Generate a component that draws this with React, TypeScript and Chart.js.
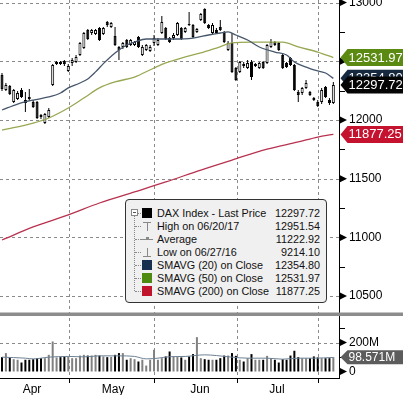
import React, { useEffect, useRef } from 'react';
import { Chart, registerables } from 'chart.js';
Chart.register(...registerables);

// ---------- DATA ----------
const opens = [
  12383, 12256, 12290, 12153, 12179, 12256, 12170, 12196, 12153, 12153,
  12042, 11974, 12025, 12298, 12477, 12494, 12503, 12417, 12486, 12494,
  12554, 12613, 12767, 12741, 12733, 12784, 12733, 12835, 12792, 12715,
  12622, 12622, 12681, 12639, 12639, 12707, 12554, 12596, 12588, 12656,
  12639, 12741, 12784, 12698, 12698, 12724, 12784, 12750, 12818, 12809,
  12750, 12852, 12945, 12809, 12741, 12767, 12792, 12750, 12596, 12656,
  12443, 12409, 12477, 12443, 12494, 12460, 12443, 12494, 12486, 12622,
  12664, 12656, 12554, 12486, 12528, 12468, 12238, 12230, 12273, 12238,
  12187, 12153, 12153, 12281, 12170, 12145,
];
const highs = [
  12400, 12315, 12298, 12264, 12247, 12273, 12238, 12264, 12170, 12162,
  12051, 12059, 12102, 12477, 12503, 12503, 12511, 12477, 12528, 12554,
  12664, 12750, 12775, 12775, 12775, 12792, 12792, 12843, 12835, 12792,
  12630, 12664, 12690, 12690, 12673, 12715, 12639, 12647, 12639, 12724,
  12698, 12886, 12792, 12707, 12741, 12835, 12792, 12792, 12920, 12818,
  12784, 12911, 12951.54, 12818, 12826, 12784, 12852, 12758, 12673, 12741,
  12451, 12503, 12494, 12511, 12511, 12486, 12494, 12503, 12647, 12690,
  12673, 12664, 12562, 12494, 12537, 12477, 12256, 12281, 12341, 12247,
  12196, 12170, 12273, 12290, 12187, 12324,
];
const lows = [
  12247, 12247, 12213, 12145, 12170, 12187, 12068, 12162, 12102, 12008,
  12008, 11966, 12017, 12290, 12468, 12468, 12460, 12409, 12460, 12486,
  12545, 12605, 12681, 12724, 12724, 12673, 12724, 12792, 12784, 12630,
  12511, 12605, 12613, 12630, 12630, 12613, 12545, 12588, 12579, 12630,
  12630, 12733, 12681, 12656, 12681, 12715, 12681, 12741, 12801, 12698,
  12741, 12843, 12818, 12775, 12733, 12733, 12758, 12656, 12588, 12400,
  12332, 12400, 12443, 12434, 12341, 12451, 12434, 12434, 12477, 12613,
  12630, 12588, 12434, 12443, 12460, 12247, 12153, 12213, 12264, 12204,
  12162, 12111, 12136, 12187, 12128, 12136,
];
const closes = [
  12264, 12298, 12221, 12256, 12230, 12196, 12145, 12179, 12111, 12017,
  12025, 12051, 12085, 12468, 12494, 12477, 12477, 12460, 12511, 12537,
  12656, 12741, 12690, 12767, 12767, 12681, 12784, 12809, 12826, 12639,
  12596, 12656, 12622, 12681, 12664, 12622, 12622, 12639, 12622, 12698,
  12681, 12835, 12690, 12664, 12724, 12826, 12690, 12784, 12809, 12707,
  12775, 12903, 12826, 12784, 12809, 12741, 12767, 12664, 12656, 12409,
  12341, 12494, 12460, 12486, 12366, 12477, 12486, 12443, 12639, 12664,
  12639, 12596, 12443, 12451, 12468, 12256, 12213, 12273, 12315, 12213,
  12170, 12119, 12256, 12196, 12145, 12297.72,
];
// volume in millions
const volumes = [
  99, 127, 97, 85, 81, 62, 81, 81, 85, 92,
  92, 92, 115, 207, 97, 99, 104, 104, 92, 92,
  110, 115, 110, 110, 115, 110, 104, 99, 101, 115,
  127, 127, 81, 92, 85, 69, 81, 41, 81, 150,
  81, 92, 104, 138, 104, 104, 97, 81, 104, 120,
  237, 92, 85, 81, 81, 81, 92, 110, 110, 127,
  108, 81, 69, 92, 120, 81, 81, 81, 108, 92,
  81, 62, 85, 81, 110, 143, 99, 92, 92, 92,
  104, 97, 92, 92, 92, 98.571,
];
const volAvgIdx = [0, 6, 8, 12, 17, 21, 25, 30, 34, 37, 40, 43, 47, 52, 55, 59, 63, 68, 72, 76, 80, 85];
const volAvgVal = [99, 92, 87, 99, 104, 101, 108, 108, 104, 87, 92, 102, 104, 115, 110, 99, 92, 92, 85, 92, 92, 97];

const sma20Idx = [0, 4, 8, 12, 15, 17, 20, 22, 24, 26, 29, 32, 34, 37, 39, 44, 49, 53, 56, 58, 60, 63, 66, 70, 73, 75, 78, 80, 83, 85];
const sma20Val = [12085, 12136, 12170, 12196, 12230, 12273, 12315, 12350, 12410, 12480, 12571, 12639, 12664, 12690, 12690, 12690, 12698, 12724, 12741, 12750, 12724, 12681, 12622, 12579, 12554, 12494, 12451, 12426, 12400, 12354.8];
const sma50Idx = [0, 8, 12, 17, 21, 25, 29, 34, 39, 42, 46, 51, 55, 59, 64, 72, 76, 81, 85];
const sma50Val = [11914, 11974, 12017, 12102, 12187, 12273, 12324, 12366, 12443, 12486, 12528, 12571, 12613, 12656, 12664, 12664, 12622, 12579, 12531.97];
const sma200Idx = [0, 8, 17, 25, 34, 42, 51, 59, 68, 76, 81, 85];
const sma200Val = [10978, 11089, 11191, 11293, 11387, 11472, 11574, 11659, 11752, 11813, 11855, 11877.25];

const monthLabels = ['Apr', 'May', 'Jun', 'Jul'];
const monthLabelPos = [7.7, 28.5, 50.8, 70.55];
const monthBoundaries = [17.19, 38.99, 60.29, 81.07];

const priceMajor = [10500, 11000, 11500, 12000, 12500, 13000];
const priceMinor = [10750, 11250, 11750, 12250, 12750];
const volMajor = [0, 200];
const volMinor = [100, 300];

const legendLabels = ['DAX Index - Last Price', 'High on 06/20/17', 'Average', 'Low on 06/27/16', 'SMAVG (20) on Close', 'SMAVG (50) on Close', 'SMAVG (200) on Close'];
const legendValues = ['12297.72', '12951.54', '11222.92', '9214.10', '12354.80', '12531.97', '11877.25'];

// ---------- STYLE ----------
const FONT = '"Liberation Sans", Arial, sans-serif';
const GRID = '#8a8a8a';
const C_SMA20 = '#46566b';
const C_SMA50 = '#97a852';
const C_SMA200 = '#b8324f';

function badge(ctx: CanvasRenderingContext2D, x0: number, y: number, h: number, color: string, text: string, font: string) {
  ctx.save();
  ctx.fillStyle = color;
  ctx.beginPath();
  ctx.moveTo(x0, y);
  ctx.lineTo(x0 + 7, y - h / 2);
  ctx.lineTo(x0 + 80, y - h / 2);
  ctx.lineTo(x0 + 80, y + h / 2);
  ctx.lineTo(x0 + 7, y + h / 2);
  ctx.closePath();
  ctx.fill();
  ctx.fillStyle = '#fff';
  ctx.font = font;
  ctx.textBaseline = 'middle';
  ctx.textAlign = 'left';
  ctx.fillText(text, x0 + 8, y + 0.5);
  ctx.restore();
}

function seg(ctx: CanvasRenderingContext2D, x1: number, y1: number, x2: number, y2: number) {
  ctx.beginPath();
  ctx.moveTo(x1, y1);
  ctx.lineTo(x2, y2);
  ctx.stroke();
}

function drawGrid(chart: any) {
  const ctx: CanvasRenderingContext2D = chart.ctx;
  const xs = chart.scales.x;
  const ys = chart.scales.y;
  const yv = chart.scales.yv;
  const L = xs.left;
  const R = xs.right;
  const T = ys.top;
  const B = xs.top;
  ctx.save();
  ctx.strokeStyle = GRID;
  ctx.lineWidth = 1;
  ctx.setLineDash([3, 3]);
  monthBoundaries.forEach((v) => {
    const x = Math.round(xs.getPixelForValue(v)) + 0.5;
    seg(ctx, x, T, x, B);
  });
  priceMajor.forEach((v) => {
    const y = Math.round(ys.getPixelForValue(v)) + 0.5;
    seg(ctx, L, y, R, y);
  });
  const y2 = Math.round(yv.getPixelForValue(200)) + 0.5;
  seg(ctx, L, y2, R, y2);
  ctx.restore();
}

const gridPlugin = {
  id: 'dashGrid',
  beforeDatasetsDraw(chart: any) {
    drawGrid(chart);
  },
};

const overlayPlugin = {
  id: 'overlay',
  afterDraw(chart: any) {
    const ctx: CanvasRenderingContext2D = chart.ctx;
    const xs = chart.scales.x;
    const ys = chart.scales.y;
    const yv = chart.scales.yv;
    const right = xs.right;
    const bottom = xs.top;
    ctx.save();
    ctx.strokeStyle = '#000';
    ctx.lineWidth = 1;
    ctx.setLineDash([]);
    monthBoundaries.forEach((v) => {
      const x = Math.round(xs.getPixelForValue(v)) + 0.5;
      seg(ctx, x, bottom, x, bottom + 5);
    });
    [...priceMinor.map((v) => ys.getPixelForValue(v)), ...volMinor.map((v) => yv.getPixelForValue(v))].forEach((p) => {
      const y = Math.round(p) + 0.5;
      seg(ctx, right, y, right + 6, y);
    });
    ctx.fillStyle = '#8c8c8c';
    ctx.fillRect(0, ys.bottom - 1.5, chart.width, 3.5);
    ctx.fillStyle = '#000';
    const tri = (y: number) => {
      ctx.beginPath();
      ctx.moveTo(right + 1, y - 3.5);
      ctx.lineTo(right + 1, y + 3.5);
      ctx.lineTo(right + 8, y);
      ctx.closePath();
      ctx.fill();
    };
    priceMajor.forEach((v) => tri(ys.getPixelForValue(v)));
    volMajor.forEach((v) => tri(yv.getPixelForValue(v)));
    ctx.restore();
    const n = closes.length - 1;
    const pf = '13px ' + FONT;
    const items = [
      { v: sma50Val[sma50Val.length - 1], c: '#5b8a12' },
      { v: sma20Val[sma20Val.length - 1], c: '#17293f' },
      { v: closes[n], c: '#050505' },
      { v: sma200Val[sma200Val.length - 1], c: '#c4122f' },
    ];
    items.forEach((it) => badge(ctx, right + 1.5, ys.getPixelForValue(it.v), 17, it.c, it.v.toFixed(2), pf));
    const lv = volumes[volumes.length - 1];
    badge(ctx, right + 1.5, yv.getPixelForValue(lv), 14, '#5c5c5c', lv.toFixed(3) + 'M', '12px ' + FONT);
  },
};

function LegendBox() {
  const rowTop = (k: number) => 6.5 + 13 * k;
  const squares: Record<number, string> = { 0: '#000', 4: '#17304f', 5: '#4f8a10', 6: '#c0142c' };
  return (
    <div style={{ position: 'absolute', left: 125, top: 199, width: 202, height: 104, boxSizing: 'border-box', background: '#f0f0f0', border: '1px solid #333', borderRadius: 4, fontFamily: FONT, fontSize: 10.8, color: '#111' }}>
      <div style={{ position: 'absolute', left: 5, top: 9, width: 7, height: 7, boxSizing: 'border-box', border: '1px solid #888', background: '#fff' }}>
        <div style={{ position: 'absolute', left: 1, top: 2, width: 3, height: 1, background: '#555' }} />
      </div>
      <div style={{ position: 'absolute', left: 8, top: 16, height: 75, borderLeft: '1px dotted #888' }} />
      {legendLabels.map((_, k) => (
        <div key={'s' + k} style={{ position: 'absolute', left: k === 0 ? 12 : 9, top: rowTop(k) + 6, width: k === 0 ? 3 : 6, borderTop: '1px dotted #888' }} />
      ))}
      {legendLabels.map((lab, k) => (
        <React.Fragment key={k}>
          {squares[k] !== undefined && (
            <div style={{ position: 'absolute', left: 16, top: rowTop(k) + 1.5, width: 10, height: 10, background: squares[k] }} />
          )}
          {k === 1 && (
            <>
              <div style={{ position: 'absolute', left: 17, top: rowTop(k) + 2, width: 8, height: 1, background: '#888' }} />
              <div style={{ position: 'absolute', left: 21, top: rowTop(k) + 2, width: 1, height: 9, background: '#888' }} />
            </>
          )}
          {k === 2 && (
            <>
              <div style={{ position: 'absolute', left: 15, top: rowTop(k) + 6, width: 12, height: 1, background: '#888' }} />
              <div style={{ position: 'absolute', left: 20, top: rowTop(k) + 4, width: 3, height: 3, background: '#888' }} />
            </>
          )}
          {k === 3 && (
            <>
              <div style={{ position: 'absolute', left: 21, top: rowTop(k) + 2, width: 1, height: 9, background: '#888' }} />
              <div style={{ position: 'absolute', left: 17, top: rowTop(k) + 10, width: 8, height: 1, background: '#888' }} />
            </>
          )}
          <div style={{ position: 'absolute', left: 31, top: rowTop(k), height: 13, lineHeight: '13px', whiteSpace: 'nowrap' }}>{lab}</div>
          <div style={{ position: 'absolute', right: 6, top: rowTop(k), height: 13, lineHeight: '13px', whiteSpace: 'nowrap', textAlign: 'right' }}>{legendValues[k]}</div>
        </React.Fragment>
      ))}
    </div>
  );
}

export default function App() {
  const ref = useRef<HTMLCanvasElement>(null);
  useEffect(() => {
    const up = closes.map((c, i) => c >= opens[i]);
    const chart = new Chart(ref.current as HTMLCanvasElement, {
      type: 'bar',
      data: {
        datasets: [
          {
            type: 'line', label: 'SMA20', yAxisID: 'y', xAxisID: 'x', order: 0,
            data: sma20Idx.map((x, k) => ({ x, y: sma20Val[k] })),
            borderColor: C_SMA20, borderWidth: 1.3, pointRadius: 0, cubicInterpolationMode: 'monotone',
          } as any,
          {
            type: 'line', label: 'SMA50', yAxisID: 'y', xAxisID: 'x', order: 0,
            data: sma50Idx.map((x, k) => ({ x, y: sma50Val[k] })),
            borderColor: C_SMA50, borderWidth: 1.3, pointRadius: 0, cubicInterpolationMode: 'monotone',
          } as any,
          {
            type: 'line', label: 'SMA200', yAxisID: 'y', xAxisID: 'x', order: 0,
            data: sma200Idx.map((x, k) => ({ x, y: sma200Val[k] })),
            borderColor: C_SMA200, borderWidth: 1.3, pointRadius: 0, cubicInterpolationMode: 'monotone',
          } as any,
          {
            type: 'bar', label: 'bodies', yAxisID: 'y', xAxisID: 'x', order: 1,
            data: opens.map((o, i) => ({ x: i, y: [o, closes[i]] })),
            backgroundColor: up.map((u) => (u ? '#fff' : '#000')),
            borderColor: '#000', borderWidth: 1, borderSkipped: false, barThickness: 3, minBarLength: 1,
            grouped: false, inflateAmount: 0,
          } as any,
          {
            type: 'bar', label: 'wicks', yAxisID: 'y', xAxisID: 'x', order: 2,
            data: lows.map((l, i) => ({ x: i, y: [l, highs[i]] })),
            backgroundColor: '#000', borderWidth: 0, barThickness: 1, grouped: false, inflateAmount: 0,
          } as any,
          {
            type: 'line', label: 'volavg', yAxisID: 'yv', xAxisID: 'x', order: 0,
            data: volAvgIdx.map((x, k) => ({ x, y: volAvgVal[k] })),
            borderColor: '#6d8194', borderWidth: 1, pointRadius: 0, cubicInterpolationMode: 'monotone',
          } as any,
          {
            type: 'bar', label: 'volume', yAxisID: 'yv', xAxisID: 'x', order: 3,
            data: volumes.map((v, i) => ({ x: i, y: v })),
            backgroundColor: up.map((u) => (u ? '#808080' : '#000')),
            borderWidth: 0, barThickness: 2, grouped: false, inflateAmount: 0,
          } as any,
        ],
      },
      options: {
        animation: false,
        responsive: false,
        devicePixelRatio: 1,
        layout: { padding: 0 },
        plugins: { legend: { display: false }, tooltip: { enabled: false } },
        scales: {
          x: {
            type: 'linear', position: 'bottom', min: -0.513, max: 86.45, offset: false,
            afterBuildTicks: (s: any) => { s.ticks = monthLabelPos.map((v) => ({ value: v })); },
            afterFit: (s: any) => { s.height = 17; s.paddingLeft = 0; s.paddingRight = 0; },
            ticks: {
              autoSkip: false, maxRotation: 0, minRotation: 0, padding: -4, color: '#000',
              font: { family: FONT, size: 12 },
              callback: (v: any, i: number) => monthLabels[i],
            },
            grid: { display: false },
            border: { display: true, color: '#000', width: 1 },
          } as any,
          y: {
            type: 'linear', position: 'right', stack: 'main', stackWeight: 314,
            min: 10347.5, max: 13022.1,
            afterBuildTicks: (s: any) => { s.ticks = priceMajor.map((v) => ({ value: v })); },
            afterFit: (s: any) => { s.width = 64; s.paddingTop = 0; s.paddingBottom = 0; },
            ticks: {
              autoSkip: false, padding: 2, color: '#000', font: { family: FONT, size: 12 },
              callback: (v: any) => String(v),
            },
            grid: { display: false },
            border: { display: true, color: '#000', width: 1 },
          } as any,
          yv: {
            type: 'linear', position: 'right', stack: 'main', stackWeight: 64,
            min: -44.8, max: 396.6,
            afterBuildTicks: (s: any) => { s.ticks = volMajor.map((v) => ({ value: v })); },
            afterFit: (s: any) => { s.width = 64; s.paddingTop = 0; s.paddingBottom = 0; },
            ticks: {
              autoSkip: false, padding: 2, color: '#000', font: { family: FONT, size: 12 },
              callback: (v: any) => (v === 0 ? '0' : v + 'M'),
            },
            grid: { display: false },
            border: { display: true, color: '#000', width: 1 },
          } as any,
        },
      },
      plugins: [gridPlugin, overlayPlugin],
    });
    return () => chart.destroy();
  }, []);

  return (
    <div style={{ position: 'fixed', left: 0, top: 0, width: 403, height: 395, background: '#fff', overflow: 'hidden' }}>
      <canvas ref={ref} width={403} height={395} style={{ display: 'block', width: 403, height: 395 }} />
      <LegendBox />
    </div>
  );
}
